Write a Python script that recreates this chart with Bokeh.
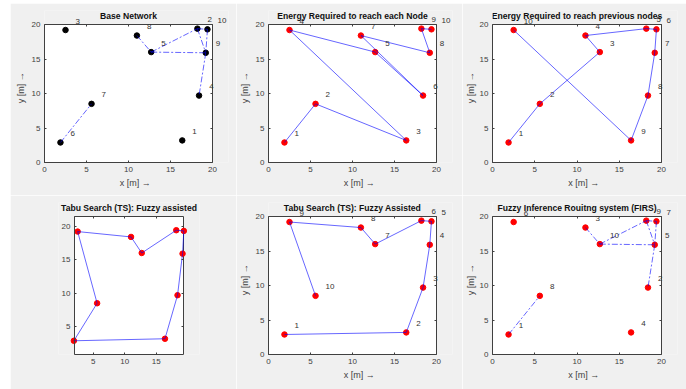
from bokeh.plotting import figure
from bokeh.models import (Range1d, FixedTicker, LinearAxis, Label, Spacer,
                          CustomLabelingPolicy)
from bokeh.layouts import row, column
from bokeh.embed import file_html
from bokeh.resources import INLINE

# ---------------- data ----------------
node_ids = [1, 2, 3, 4, 5, 6, 7, 8, 9, 10]
node_x = [16.4, 18.2, 2.5, 18.4, 12.7, 1.9, 5.6, 11.0, 19.2, 19.4]
node_y = [3.2, 19.4, 19.2, 9.7, 16.0, 2.9, 8.5, 18.4, 15.9, 19.3]

# links of the base network (node id pairs)
edges = [(6, 7), (8, 5), (5, 2), (5, 9), (2, 9), (2, 10), (10, 9), (9, 4)]

# visiting orders (node ids)
energy_each_order = [6, 7, 1, 3, 5, 4, 8, 9, 2, 10]
energy_prev_order = [6, 7, 5, 8, 2, 10, 9, 4, 1, 3]
tabu_loop_order = [6, 7, 3, 8, 5, 2, 10, 9, 4, 1, 6]
tabu_path_order = [6, 1, 4, 9, 10, 2, 5, 8, 3, 7]
# labels written next to nodes 1..10 in the FIRS panel
firs_labels = [4, 9, 6, 2, 10, 1, 8, 3, 5, 7]

axis_lim = [0, 20]
full_ticks = [0, 5, 10, 15, 20]
tabu_xlim = [2.0, 19.35]
tabu_ylim = [0.85, 21.45]
tabu_xticks = [5, 10, 15]
tabu_yticks = [5, 10, 15, 20]

titles = ["Base Network",
          "Energy Required to reach each Node",
          "Energy Required to reach previous nodes",
          "Tabu Search (TS): Fuzzy assisted",
          "Tabu Search (TS): Fuzzy Assisted",
          "Fuzzy Inference Rouitng system (FIRS)"]
xlab = "x  [m] \u2192"
ylab = "y  [m] \u2192"

FONT = "Liberation Sans"
AXC = "#404040"
BG = "#f0f0f0"
LINE = "#0000ff"
LABEL_DX = 1.2
LABEL_DY = 1.3
EXT_R = 16   # extra frame room (px) right of the box, for node labels
EXT_T = 14   # extra frame room (px) above the box, for labels and title
TITLE_GAP = 8.3  # px from box top to title centre

no_labels = CustomLabelingPolicy(
    code="for (const i of Array.from(indices)) indices.unset(i); return indices;")


def style_axis(ax, ticks, lab, lab_standoff):
    ax.ticker = FixedTicker(ticks=ticks)
    ax.major_tick_in = 2
    ax.major_tick_out = 0
    ax.minor_tick_in = 0
    ax.minor_tick_out = 0
    ax.axis_line_color = AXC
    ax.major_tick_line_color = AXC
    ax.major_label_text_font = FONT
    ax.major_label_text_font_size = "8px"
    ax.major_label_text_color = AXC
    ax.major_label_standoff = 4
    ax.axis_label = lab
    ax.axis_label_text_font = FONT
    ax.axis_label_text_font_size = "9px"
    ax.axis_label_text_font_style = "normal"
    ax.axis_label_text_color = AXC
    ax.axis_label_standoff = lab_standoff


def inner_axis(ticks, loc):
    return LinearAxis(ticker=FixedTicker(ticks=ticks), fixed_location=loc,
                      major_label_policy=no_labels,
                      major_label_text_font_size="1px", major_label_standoff=0,
                      major_tick_in=2, major_tick_out=0,
                      minor_tick_in=0, minor_tick_out=0,
                      axis_line_color=None, major_tick_line_color=AXC)


def boxed_fig(title, xlim, ylim, xticks, yticks, box_w, box_h, ml, mr, mt, mb,
              xlabel, ylabel, ext_l=0, ext_r=EXT_R, ylab_standoff=3):
    """Axes box drawn from the limits; frame extended so texts outside the box show."""
    ppx = box_w / (xlim[1] - xlim[0])
    ppy = box_h / (ylim[1] - ylim[0])
    p = figure(frame_width=box_w + ext_l + ext_r, frame_height=box_h + EXT_T,
               x_range=Range1d(xlim[0] - ext_l / ppx, xlim[1] + ext_r / ppx),
               y_range=Range1d(ylim[0], ylim[1] + EXT_T / ppy),
               output_backend="svg", toolbar_location=None,
               min_border_left=ml - ext_l, min_border_right=mr - ext_r,
               min_border_top=mt - EXT_T, min_border_bottom=mb,
               background_fill_color=BG, border_fill_color=BG,
               outline_line_color=None)
    p.grid.visible = False
    p.title.visible = False
    style_axis(p.xaxis[0], xticks, xlabel, 3)
    style_axis(p.yaxis[0], yticks, ylabel, ylab_standoff)
    p.xaxis[0].bounds = tuple(xlim)
    p.yaxis[0].bounds = tuple(ylim)
    if ext_l:
        p.yaxis[0].fixed_location = xlim[0]
    p.add_layout(inner_axis(xticks, ylim[1]), "above")
    p.add_layout(inner_axis(yticks, xlim[1]), "right")
    p.quad(left=[xlim[0]], right=[xlim[1]], bottom=[ylim[0]], top=[ylim[1]],
           fill_color="white", line_color=AXC, line_width=1)
    p._box_title = (title, (xlim[0] + xlim[1]) / 2, ylim[1] + TITLE_GAP / ppy)
    return p


def finish(p):
    t, x, y = p._box_title
    p.add_layout(Label(x=x, y=y, text=t, text_font=FONT, text_font_size="8.6px",
                       text_font_style="bold", text_color="#111111",
                       text_align="center", text_baseline="middle"))


def pts(ids):
    return [node_x[i - 1] for i in ids], [node_y[i - 1] for i in ids]


def add_nodes(p, color):
    p.scatter(node_x, node_y, size=5.5, marker="circle",
              fill_color=color, line_color=color)


def add_path(p, order):
    xs, ys = pts(order)
    p.line(xs, ys, line_color=LINE, line_alpha=0.6, line_width=1)


def add_edges(p):
    xs = [[node_x[a - 1], node_x[b - 1]] for a, b in edges]
    ys = [[node_y[a - 1], node_y[b - 1]] for a, b in edges]
    p.multi_line(xs, ys, line_color=LINE, line_alpha=0.6, line_width=1,
                 line_dash="6 2 2 2")


def add_labels(p, labels):
    for nx, ny, t in zip(node_x, node_y, labels):
        p.add_layout(Label(x=nx + LABEL_DX, y=ny + LABEL_DY, text=str(t),
                           text_font=FONT, text_font_size="8px",
                           text_color="#333333", text_align="left",
                           text_baseline="middle"))


def order_labels(order):
    return [order.index(i) + 1 for i in node_ids]


# Row 1
p1 = boxed_fig(titles[0], axis_lim, axis_lim, full_ticks, full_ticks, 168, 138,
               34, 24, 21, 33, xlab, ylab)
add_nodes(p1, "#000000")
add_edges(p1)
add_labels(p1, node_ids)
finish(p1)

p2 = boxed_fig(titles[1], axis_lim, axis_lim, full_ticks, full_ticks, 168, 138,
               30, 26, 21, 33, xlab, ylab)
add_nodes(p2, "#ff0000")
add_path(p2, energy_each_order)
add_labels(p2, order_labels(energy_each_order))
finish(p2)

p3 = boxed_fig(titles[2], axis_lim, axis_lim, full_ticks, full_ticks, 169, 138,
               28, 29, 21, 33, xlab, ylab, ylab_standoff=1)
add_nodes(p3, "#ff0000")
add_path(p3, energy_prev_order)
add_labels(p3, order_labels(energy_prev_order))
finish(p3)

# Row 2
p4 = boxed_fig(titles[3], tabu_xlim, tabu_ylim, tabu_xticks, tabu_yticks, 109, 138,
               64, 53, 21, 35, None, None, ext_l=16, ext_r=16)
add_nodes(p4, "#ff0000")
add_path(p4, tabu_loop_order)
finish(p4)

p5 = boxed_fig(titles[4], axis_lim, axis_lim, full_ticks, full_ticks, 168, 138,
               30, 26, 21, 35, xlab, ylab)
add_nodes(p5, "#ff0000")
add_path(p5, tabu_path_order)
add_labels(p5, order_labels(tabu_path_order))
finish(p5)

p6 = boxed_fig(titles[5], axis_lim, axis_lim, full_ticks, full_ticks, 169, 138,
               28, 29, 21, 35, xlab, ylab, ylab_standoff=1)
add_nodes(p6, "#ff0000")
add_edges(p6)
add_labels(p6, firs_labels)
finish(p6)

grid = column(row(p1, p2, p3, spacing=0), row(p4, p5, p6, spacing=0), spacing=0)
layout = row(Spacer(width=10), column(Spacer(height=3), grid, spacing=0), spacing=0)

open("out.html", "w").write(file_html(layout, INLINE))
